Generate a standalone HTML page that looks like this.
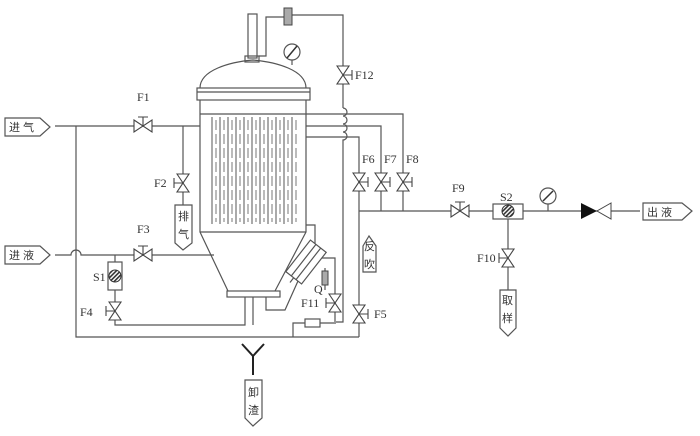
<!DOCTYPE html>
<html><head><meta charset="utf-8"><style>
body{margin:0;background:#fff}
svg{display:block}
text{font-family:"Liberation Serif","Noto Serif CJK SC",serif;font-size:12px;fill:#333}
.c{font-family:"Liberation Sans","Noto Sans CJK SC",sans-serif;font-size:11px}
</style></head><body>
<svg width="700" height="436" viewBox="0 0 700 436" xmlns="http://www.w3.org/2000/svg">
<defs>
<pattern id="h" width="3" height="3" patternUnits="userSpaceOnUse" patternTransform="rotate(45)"><rect width="3" height="3" fill="#fff"/><rect width="1.6" height="3" fill="#333"/></pattern>
<g id="vh"><path d="M-9,-6 L9,6 L9,-6 L-9,6 Z" fill="#fff" stroke="#444" stroke-width="1.1"/><path d="M0,0 V-9 M-5,-9 H5" stroke="#444" stroke-width="1.1"/></g>
<g id="vvl"><path d="M-6,-9 L6,9 L-6,9 L6,-9 Z" fill="#fff" stroke="#444" stroke-width="1.1"/><path d="M0,0 H-9 M-9,-5 V5" stroke="#444" stroke-width="1.1"/></g>
<g id="vvr"><path d="M-6,-9 L6,9 L-6,9 L6,-9 Z" fill="#fff" stroke="#444" stroke-width="1.1"/><path d="M0,0 H9 M9,-5 V5" stroke="#444" stroke-width="1.1"/></g>
</defs>
<g stroke="#555" stroke-width="1.2" fill="none">
<path d="M5,118 H40 L50,127 L40,136 H5 Z"/>
<path d="M5,246 H40 L50,255 L40,264 H5 Z"/>
<path d="M55,126 H200"/>
<path d="M55,255 H71 A5,5 0 0 1 81,255 H214"/>
<path d="M76,126 V337 H359"/>
<path d="M183,126 V205"/>
<path d="M175,205 H192 V243 L183,250 L175,243 Z"/>
<path d="M115,255 V325 H245 V297"/>
<rect x="108" y="262" width="14" height="28" fill="#fff"/>
<path d="M200,100 V232 L228,291 M306,100 V232 L275,291"/>
<path d="M200,232 H306"/>
<rect x="197" y="88" width="113" height="12"/>
<path d="M197,92 H310"/>
<path d="M200,88 C200,70 230,62 253,60 C276,62 306,70 306,88"/>
<path d="M200,114 H306"/>
<rect x="227" y="291" width="53" height="6"/>
<path d="M253,297 V325"/>
<path d="M306,225 H315 V243 L285,310 H266 V297"/>
<rect x="248" y="14" width="9" height="44"/>
<rect x="245" y="56" width="14" height="6"/>
<path d="M259,56 H266 V17 H284"/>
<path d="M292,15 H343 V108"/>
<path d="M343,108 a4,4 0 0 1 0,8 a4,4 0 0 1 0,8 a4,4 0 0 1 0,8 a4,4 0 0 1 0,8 V322 H336"/>
<circle cx="292" cy="52" r="8" fill="#fff"/>
<path d="M292,60 V65"/>
<path d="M306,114 H403 V211"/>
<path d="M306,126 H381 V211"/>
<path d="M306,137 H359 V337"/>
<path d="M359,211 H493 M523,211 H640"/>
<path d="M508,219 V290"/>
<path d="M500,290 H516 V328 L508,336 L500,328 Z"/>
<path d="M643,203 H682 L692,211 L682,220 H643 Z"/>
<circle cx="548" cy="196" r="8" fill="#fff"/>
<path d="M548,204 V211"/>
<rect x="493" y="204" width="30" height="15" fill="#fff"/>
<path d="M363,246 L369,236 L376,246 V272 H363 Z"/>
<path d="M312,258 H335 V322 M293,337 V323 H305 M320,323 H336"/>
<path d="M325,268 V290"/>
<rect x="305" y="319" width="15" height="8" fill="#fff"/>
<g transform="translate(306,262) rotate(-52)"><rect x="-20" y="-10" width="40" height="20" fill="#fff"/><path d="M-20,-3 H20 M-20,3 H20 M-26,0 H-20"/></g>
<path d="M242,344 L253,356 L264,344 M253,356 V375" stroke="#222" stroke-width="2"/>
<path d="M245,380 H262 V418 L253,426 L245,418 Z"/>
</g>
<g stroke="#555" stroke-width="1">
<path d="M212,117 V224 M220,117 V224 M228,117 V224 M236,117 V224 M244,117 V224 M252,117 V224 M260,117 V224 M268,117 V224 M276,117 V224 M284,117 V224 M292,117 V224"/>
</g>
<g stroke="#777" stroke-width="1"><path d="M216,120 V222 M224,120 V222 M232,120 V222 M240,120 V222 M248,120 V222 M256,120 V222 M264,120 V222 M272,120 V222 M280,120 V222 M288,120 V222 M296,120 V222" stroke-dasharray="10,4"/></g>
<circle cx="115" cy="276" r="6" fill="url(#h)" stroke="#333"/>
<circle cx="508" cy="211" r="6" fill="url(#h)" stroke="#333"/>
<path d="M287,58 L297,46 M543,201 L553,191" stroke="#333" stroke-width="1.5"/>
<rect x="284" y="8" width="8" height="17" fill="#aaa" stroke="#444"/>
<rect x="322" y="271" width="6" height="14" fill="#aaa" stroke="#444"/>
<use href="#vh" x="143" y="126"/>
<use href="#vvl" x="183" y="183"/>
<use href="#vh" x="143" y="255"/>
<use href="#vvl" x="115" y="311"/>
<use href="#vvr" x="343" y="75"/>
<use href="#vvr" x="359" y="182"/>
<use href="#vvr" x="381" y="182"/>
<use href="#vvr" x="403" y="182"/>
<use href="#vh" x="460" y="211"/>
<use href="#vvl" x="508" y="258"/>
<use href="#vvl" x="335" y="303"/>
<use href="#vvr" x="359" y="314"/>
<path d="M581,203 L597,211 L581,219 Z" fill="#111"/>
<path d="M611,203 L597,211 L611,219 Z" fill="#fff" stroke="#444"/>
<text x="137" y="101">F1</text>
<text x="154" y="187">F2</text>
<text x="137" y="233">F3</text>
<text x="80" y="316">F4</text>
<text x="93" y="281">S1</text>
<text x="374" y="318">F5</text>
<text x="362" y="163">F6</text>
<text x="384" y="163">F7</text>
<text x="406" y="163">F8</text>
<text x="452" y="192">F9</text>
<text x="500" y="201">S2</text>
<text x="477" y="262">F10</text>
<text x="355" y="79">F12</text>
<text x="301" y="307">F11</text>
<text x="314" y="293">Q</text>
<text class="c" x="9" y="131">进 气</text>
<text class="c" x="9" y="259">进 液</text>
<text class="c" x="647" y="216">出 液</text>
<text class="c" x="178" y="220">排</text><text class="c" x="178" y="238">气</text>
<text class="c" x="364" y="250">反</text><text class="c" x="364" y="268">吹</text>
<text class="c" x="502" y="304">取</text><text class="c" x="502" y="322">样</text>
<text class="c" x="248" y="396">卸</text><text class="c" x="248" y="414">渣</text>
</svg>
</body></html>
